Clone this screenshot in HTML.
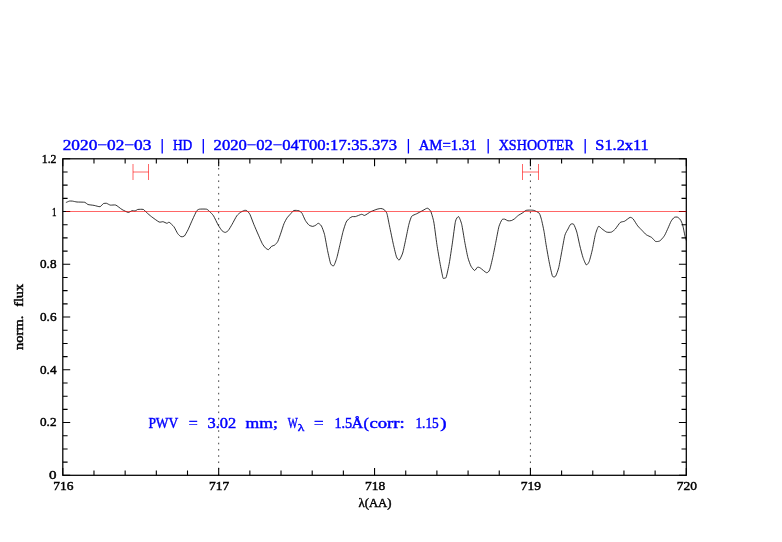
<!DOCTYPE html>
<html><head><meta charset="utf-8"><title>plot</title>
<style>html,body{margin:0;padding:0;background:#fff;}svg{display:block;will-change:transform;}text{font-family:"Liberation Serif",serif;}</style>
</head><body>
<svg width="782" height="542" viewBox="0 0 782 542">
<rect width="782" height="542" fill="#fff"/>
<g>
<line x1="218.68" y1="475.55" x2="218.68" y2="158.80" stroke="#222" stroke-width="0.85" stroke-dasharray="1.6 4.645"/>
<line x1="530.42" y1="475.55" x2="530.42" y2="158.80" stroke="#222" stroke-width="0.85" stroke-dasharray="1.6 4.645"/>
<path d="M62.80 475.30v-7.40M62.80 158.80v7.40M93.98 475.30v-4.80M93.98 158.80v4.80M125.15 475.30v-4.80M125.15 158.80v4.80M156.33 475.30v-4.80M156.33 158.80v4.80M187.50 475.30v-4.80M187.50 158.80v4.80M218.68 475.30v-7.40M218.68 158.80v7.40M249.85 475.30v-4.80M249.85 158.80v4.80M281.02 475.30v-4.80M281.02 158.80v4.80M312.20 475.30v-4.80M312.20 158.80v4.80M343.37 475.30v-4.80M343.37 158.80v4.80M374.55 475.30v-7.40M374.55 158.80v7.40M405.73 475.30v-4.80M405.73 158.80v4.80M436.90 475.30v-4.80M436.90 158.80v4.80M468.08 475.30v-4.80M468.08 158.80v4.80M499.25 475.30v-4.80M499.25 158.80v4.80M530.42 475.30v-7.40M530.42 158.80v7.40M561.60 475.30v-4.80M561.60 158.80v4.80M592.77 475.30v-4.80M592.77 158.80v4.80M623.95 475.30v-4.80M623.95 158.80v4.80M655.12 475.30v-4.80M655.12 158.80v4.80M686.30 475.30v-7.40M686.30 158.80v7.40M62.80 475.30h7.40M686.30 475.30h-7.40M62.80 462.11h4.80M686.30 462.11h-4.80M62.80 448.93h4.80M686.30 448.93h-4.80M62.80 435.74h4.80M686.30 435.74h-4.80M62.80 422.55h7.40M686.30 422.55h-7.40M62.80 409.36h4.80M686.30 409.36h-4.80M62.80 396.18h4.80M686.30 396.18h-4.80M62.80 382.99h4.80M686.30 382.99h-4.80M62.80 369.80h7.40M686.30 369.80h-7.40M62.80 356.61h4.80M686.30 356.61h-4.80M62.80 343.43h4.80M686.30 343.43h-4.80M62.80 330.24h4.80M686.30 330.24h-4.80M62.80 317.05h7.40M686.30 317.05h-7.40M62.80 303.86h4.80M686.30 303.86h-4.80M62.80 290.67h4.80M686.30 290.67h-4.80M62.80 277.49h4.80M686.30 277.49h-4.80M62.80 264.30h7.40M686.30 264.30h-7.40M62.80 251.11h4.80M686.30 251.11h-4.80M62.80 237.92h4.80M686.30 237.92h-4.80M62.80 224.74h4.80M686.30 224.74h-4.80M62.80 211.55h7.40M686.30 211.55h-7.40M62.80 198.36h4.80M686.30 198.36h-4.80M62.80 185.17h4.80M686.30 185.17h-4.80M62.80 171.99h4.80M686.30 171.99h-4.80M62.80 158.80h7.40M686.30 158.80h-7.40" stroke="#000" stroke-width="1.1" fill="none"/>
<rect x="62.80" y="158.80" width="623.50" height="316.50" fill="none" stroke="#000" stroke-width="1.25"/>
<path d="M65.90 202.60C66.24 202.45 68.65 201.25 69.30 201.10C69.95 200.95 71.63 201.01 72.40 201.10C73.17 201.19 75.76 201.88 77.00 202.00C78.24 202.12 83.71 202.05 84.80 202.30C85.89 202.55 86.97 204.19 87.90 204.50C88.83 204.81 92.89 205.18 94.10 205.40C95.31 205.62 99.07 206.88 100.00 206.70C100.93 206.52 102.75 203.94 103.40 203.60C104.05 203.26 105.81 203.15 106.50 203.30C107.19 203.45 109.37 204.92 110.30 205.10C111.23 205.28 114.63 204.66 115.80 205.10C116.97 205.54 120.76 208.77 122.00 209.50C123.24 210.23 127.20 212.28 128.20 212.40C129.20 212.52 131.31 210.84 132.00 210.70C132.69 210.56 134.54 211.12 135.10 211.00C135.66 210.88 137.06 209.67 137.60 209.50C138.14 209.33 139.91 209.30 140.50 209.30C141.09 209.30 142.87 209.16 143.50 209.50C144.13 209.84 146.01 211.99 146.80 212.70C147.59 213.41 150.17 215.67 151.40 216.60C152.63 217.53 157.94 221.49 159.10 222.00C160.26 222.51 162.22 221.57 163.00 221.70C163.78 221.83 166.28 223.24 166.90 223.30C167.52 223.36 168.50 221.96 169.20 222.30C169.90 222.64 173.05 225.57 173.90 226.70C174.75 227.83 176.99 232.60 177.70 233.60C178.41 234.60 180.33 236.46 181.00 236.70C181.67 236.94 183.70 236.69 184.40 236.00C185.10 235.31 187.26 231.28 188.00 229.80C188.74 228.32 190.95 223.06 191.80 221.20C192.65 219.34 195.75 212.40 196.50 211.20C197.25 210.00 198.29 209.40 199.30 209.20C200.31 209.00 205.56 208.96 206.60 209.20C207.64 209.44 209.01 210.94 209.70 211.60C210.39 212.26 212.65 214.45 213.50 215.80C214.35 217.15 217.34 223.60 218.20 225.10C219.06 226.60 221.40 230.07 222.10 230.80C222.80 231.53 224.58 232.43 225.20 232.40C225.82 232.37 227.61 231.31 228.30 230.50C228.99 229.69 231.25 225.77 232.10 224.30C232.95 222.83 235.95 217.00 236.80 215.80C237.65 214.60 239.83 212.84 240.60 212.30C241.37 211.76 243.88 210.56 244.50 210.40C245.12 210.24 246.26 210.31 246.80 210.70C247.34 211.09 249.20 212.94 249.90 214.30C250.60 215.66 252.94 222.21 253.80 224.30C254.66 226.39 257.65 233.26 258.50 235.20C259.35 237.14 261.61 242.43 262.30 243.70C262.99 244.97 264.78 247.31 265.40 247.90C266.02 248.49 267.88 249.76 268.50 249.60C269.12 249.44 270.98 246.75 271.60 246.30C272.22 245.85 274.08 245.59 274.70 245.10C275.32 244.61 277.18 242.62 277.80 241.40C278.42 240.18 280.28 234.68 280.90 232.90C281.52 231.12 283.38 225.11 284.00 223.60C284.62 222.09 286.48 218.73 287.10 217.80C287.72 216.87 289.55 215.02 290.20 214.30C290.85 213.58 292.98 210.99 293.60 210.60C294.22 210.21 295.86 210.38 296.40 210.40C296.94 210.42 298.56 210.64 299.00 210.80C299.44 210.96 300.50 211.76 300.80 212.00C301.10 212.24 301.54 212.35 302.00 213.20C302.46 214.05 304.70 219.31 305.40 220.50C306.10 221.69 308.26 224.51 309.00 225.10C309.74 225.69 312.11 226.40 312.80 226.40C313.49 226.40 315.35 225.41 315.90 225.10C316.45 224.79 317.75 223.22 318.30 223.30C318.85 223.38 320.78 224.79 321.40 225.90C322.02 227.01 323.88 231.92 324.50 234.40C325.12 236.88 326.98 247.76 327.60 250.70C328.22 253.64 330.08 262.30 330.70 263.80C331.32 265.30 333.18 266.32 333.80 265.70C334.42 265.08 336.28 259.72 336.90 257.60C337.52 255.48 339.38 247.13 340.00 244.50C340.62 241.87 342.48 233.55 343.10 231.30C343.72 229.05 345.58 223.29 346.20 222.00C346.82 220.71 348.69 218.94 349.30 218.40C349.91 217.86 351.69 216.78 352.30 216.60C352.91 216.42 354.47 216.83 355.40 216.60C356.33 216.37 360.67 214.42 361.60 214.30C362.53 214.18 363.77 215.67 364.70 215.40C365.63 215.13 369.66 212.22 370.90 211.60C372.14 210.98 376.09 209.51 377.10 209.20C378.11 208.89 380.30 208.46 381.00 208.50C381.70 208.54 383.51 209.10 384.10 209.60C384.69 210.10 386.36 211.87 386.90 213.50C387.44 215.13 388.85 222.80 389.50 225.90C390.15 229.00 392.70 241.40 393.40 244.50C394.10 247.60 395.91 255.35 396.50 256.90C397.09 258.45 398.68 260.39 399.30 260.00C399.92 259.61 402.05 255.09 402.70 253.00C403.35 250.91 405.18 241.97 405.80 239.10C406.42 236.23 408.31 226.58 408.90 224.30C409.49 222.02 410.93 217.35 411.70 216.30C412.47 215.25 415.47 214.39 416.60 213.80C417.73 213.21 421.93 210.96 423.00 210.40C424.07 209.84 426.53 208.12 427.30 208.20C428.07 208.28 430.05 209.82 430.70 211.20C431.35 212.58 433.18 218.67 433.80 222.00C434.42 225.33 436.28 240.39 436.90 244.50C437.52 248.61 439.40 259.79 440.00 263.10C440.60 266.41 442.50 276.09 442.90 277.60C443.30 279.11 443.67 278.24 444.00 278.20C444.33 278.16 445.67 278.71 446.20 277.20C446.73 275.69 448.68 266.53 449.30 263.10C449.92 259.67 451.78 247.09 452.40 242.90C453.02 238.71 454.88 223.83 455.50 221.20C456.12 218.57 457.98 216.29 458.60 216.60C459.22 216.91 461.08 221.74 461.70 224.30C462.32 226.86 464.18 238.87 464.80 242.20C465.42 245.53 467.28 255.20 467.90 257.60C468.52 260.00 470.33 264.91 471.00 266.20C471.67 267.49 473.95 270.40 474.60 270.50C475.25 270.60 476.93 267.45 477.50 267.20C478.07 266.95 479.40 267.45 480.30 268.00C481.20 268.55 485.57 272.50 486.50 272.70C487.43 272.90 488.98 271.51 489.60 270.00C490.22 268.49 492.08 260.38 492.70 257.60C493.32 254.82 495.18 245.29 495.80 242.20C496.42 239.11 498.28 228.95 498.90 226.70C499.52 224.45 501.41 220.45 502.00 219.70C502.59 218.95 504.21 219.09 504.80 219.20C505.39 219.31 507.25 220.66 507.90 220.80C508.55 220.94 510.65 220.79 511.30 220.60C511.95 220.41 513.70 219.42 514.40 218.90C515.10 218.38 517.53 215.97 518.30 215.40C519.07 214.83 521.33 213.70 522.10 213.20C522.87 212.70 525.22 210.71 526.00 210.40C526.78 210.09 529.12 210.10 529.90 210.10C530.68 210.10 532.87 210.09 533.80 210.40C534.73 210.71 538.43 212.27 539.20 213.20C539.97 214.13 541.02 217.89 541.50 219.70C541.98 221.51 543.52 228.67 544.00 231.30C544.48 233.93 545.76 242.82 546.30 246.00C546.84 249.18 548.78 260.08 549.40 263.10C550.02 266.12 551.88 274.89 552.50 276.20C553.12 277.51 554.98 277.05 555.60 276.20C556.22 275.35 558.08 270.18 558.70 267.70C559.32 265.22 561.18 254.65 561.80 251.40C562.42 248.15 564.28 237.44 564.90 235.20C565.52 232.96 567.43 230.09 568.00 229.00C568.57 227.91 570.03 224.77 570.60 224.30C571.17 223.83 573.08 223.52 573.70 224.30C574.32 225.08 576.18 229.93 576.80 232.10C577.42 234.27 579.28 243.45 579.90 246.00C580.52 248.55 582.36 255.71 583.00 257.60C583.64 259.49 585.68 264.51 586.30 264.90C586.92 265.29 588.60 263.00 589.20 261.50C589.80 260.00 591.68 252.61 592.30 249.90C592.92 247.19 594.78 236.75 595.40 234.40C596.02 232.05 597.83 226.94 598.50 226.40C599.17 225.86 601.28 228.43 602.10 229.00C602.92 229.57 605.77 231.79 606.70 232.10C607.63 232.41 610.54 232.41 611.40 232.10C612.26 231.79 614.42 229.96 615.30 229.00C616.18 228.04 619.27 223.28 620.20 222.50C621.13 221.72 623.62 221.71 624.60 221.20C625.58 220.69 629.15 217.63 630.00 217.40C630.85 217.17 632.33 218.05 633.10 218.90C633.87 219.75 636.77 224.71 637.70 225.90C638.63 227.09 641.55 229.92 642.40 230.80C643.25 231.68 645.27 234.03 646.20 234.70C647.13 235.37 650.77 236.83 651.70 237.50C652.63 238.17 654.73 241.04 655.50 241.40C656.27 241.76 658.70 241.41 659.40 241.10C660.10 240.79 661.95 238.92 662.50 238.30C663.05 237.68 664.35 235.91 664.90 234.90C665.45 233.89 667.38 229.57 668.00 228.20C668.62 226.83 670.48 222.28 671.10 221.20C671.72 220.12 673.58 217.81 674.20 217.40C674.82 216.99 676.68 216.87 677.30 217.10C677.92 217.33 679.86 218.90 680.40 219.70C680.94 220.50 682.26 223.55 682.70 225.10C683.14 226.65 684.44 233.65 684.80 235.20C685.16 236.75 686.15 240.06 686.30 240.60" stroke="#000" stroke-width="0.8" fill="none" stroke-linejoin="round"/>
<line x1="65.9" y1="211.5" x2="686.30" y2="211.5" stroke="#f00" stroke-opacity="0.6" stroke-width="1"/>
<path d="M133.00 164v16M148.50 164v16M133.00 172H148.50" stroke="#f00" stroke-opacity="0.6" stroke-width="1" fill="none"/>
<path d="M522.50 164v16M538.50 164v16M522.50 172H538.50" stroke="#f00" stroke-opacity="0.6" stroke-width="1" fill="none"/>
<text x="62.70" y="150.00" font-family="'Liberation Serif', serif" font-size="15.20" fill="#00f" stroke="#00f" stroke-width="0.45" text-anchor="start" textLength="88.70" lengthAdjust="spacingAndGlyphs">2020−02−03</text>
<line x1="162.20" y1="139" x2="162.20" y2="153.5" stroke="#00f" stroke-width="1.3"/>
<text x="172.90" y="150.00" font-family="'Liberation Serif', serif" font-size="15.20" fill="#00f" stroke="#00f" stroke-width="0.45" text-anchor="start" textLength="19.40" lengthAdjust="spacingAndGlyphs">HD</text>
<line x1="203.30" y1="139" x2="203.30" y2="153.5" stroke="#00f" stroke-width="1.3"/>
<text x="213.60" y="150.00" font-family="'Liberation Serif', serif" font-size="15.20" fill="#00f" stroke="#00f" stroke-width="0.45" text-anchor="start" textLength="183.40" lengthAdjust="spacingAndGlyphs">2020−02−04T00:17:35.373</text>
<line x1="408.40" y1="139" x2="408.40" y2="153.5" stroke="#00f" stroke-width="1.3"/>
<text x="418.70" y="150.00" font-family="'Liberation Serif', serif" font-size="15.20" fill="#00f" stroke="#00f" stroke-width="0.45" text-anchor="start" textLength="58.00" lengthAdjust="spacingAndGlyphs">AM=1.31</text>
<line x1="488.20" y1="139" x2="488.20" y2="153.5" stroke="#00f" stroke-width="1.3"/>
<text x="498.70" y="150.00" font-family="'Liberation Serif', serif" font-size="15.20" fill="#00f" stroke="#00f" stroke-width="0.45" text-anchor="start" textLength="75.20" lengthAdjust="spacingAndGlyphs">XSHOOTER</text>
<line x1="585.20" y1="139" x2="585.20" y2="153.5" stroke="#00f" stroke-width="1.3"/>
<text x="595.30" y="150.00" font-family="'Liberation Serif', serif" font-size="15.20" fill="#00f" stroke="#00f" stroke-width="0.45" text-anchor="start" textLength="53.40" lengthAdjust="spacingAndGlyphs">S1.2x11</text>
<text x="41.80" y="162.60" font-family="'Liberation Serif', serif" font-size="12.70" fill="#000" stroke="#000" stroke-width="0.45" text-anchor="start" textLength="14.70" lengthAdjust="spacingAndGlyphs">1.2</text>
<text x="52.00" y="215.85" font-family="'Liberation Serif', serif" font-size="12.70" fill="#000" stroke="#000" stroke-width="0.45" text-anchor="start" textLength="4.50" lengthAdjust="spacingAndGlyphs">1</text>
<text x="40.00" y="268.10" font-family="'Liberation Serif', serif" font-size="12.70" fill="#000" stroke="#000" stroke-width="0.45" text-anchor="start" textLength="16.50" lengthAdjust="spacingAndGlyphs">0.8</text>
<text x="40.00" y="320.85" font-family="'Liberation Serif', serif" font-size="12.70" fill="#000" stroke="#000" stroke-width="0.45" text-anchor="start" textLength="16.50" lengthAdjust="spacingAndGlyphs">0.6</text>
<text x="40.00" y="373.60" font-family="'Liberation Serif', serif" font-size="12.70" fill="#000" stroke="#000" stroke-width="0.45" text-anchor="start" textLength="16.50" lengthAdjust="spacingAndGlyphs">0.4</text>
<text x="40.00" y="426.35" font-family="'Liberation Serif', serif" font-size="12.70" fill="#000" stroke="#000" stroke-width="0.45" text-anchor="start" textLength="16.50" lengthAdjust="spacingAndGlyphs">0.2</text>
<text x="49.00" y="479.10" font-family="'Liberation Serif', serif" font-size="12.70" fill="#000" stroke="#000" stroke-width="0.45" text-anchor="start" textLength="7.50" lengthAdjust="spacingAndGlyphs">0</text>
<text x="53.20" y="490.20" font-family="'Liberation Serif', serif" font-size="12.70" fill="#000" stroke="#000" stroke-width="0.45" text-anchor="start" textLength="20.20" lengthAdjust="spacingAndGlyphs">716</text>
<text x="209.08" y="490.20" font-family="'Liberation Serif', serif" font-size="12.70" fill="#000" stroke="#000" stroke-width="0.45" text-anchor="start" textLength="20.20" lengthAdjust="spacingAndGlyphs">717</text>
<text x="364.95" y="490.20" font-family="'Liberation Serif', serif" font-size="12.70" fill="#000" stroke="#000" stroke-width="0.45" text-anchor="start" textLength="20.20" lengthAdjust="spacingAndGlyphs">718</text>
<text x="520.82" y="490.20" font-family="'Liberation Serif', serif" font-size="12.70" fill="#000" stroke="#000" stroke-width="0.45" text-anchor="start" textLength="20.20" lengthAdjust="spacingAndGlyphs">719</text>
<text x="676.70" y="490.20" font-family="'Liberation Serif', serif" font-size="12.70" fill="#000" stroke="#000" stroke-width="0.45" text-anchor="start" textLength="20.20" lengthAdjust="spacingAndGlyphs">720</text>
<text x="358.50" y="506.80" font-family="'Liberation Serif', serif" font-size="11.80" fill="#000" stroke="#000" stroke-width="0.40" text-anchor="start" textLength="33.00" lengthAdjust="spacingAndGlyphs">λ(AA)</text>
<g transform="translate(23.3 349.9) rotate(-90)">
<text x="0.00" y="0.00" font-family="'Liberation Serif', serif" font-size="12.80" fill="#000" stroke="#000" stroke-width="0.45" text-anchor="start" textLength="34.20" lengthAdjust="spacingAndGlyphs">norm.</text>
<text x="43.10" y="0.00" font-family="'Liberation Serif', serif" font-size="12.80" fill="#000" stroke="#000" stroke-width="0.45" text-anchor="start" textLength="22.90" lengthAdjust="spacingAndGlyphs" style="font-variant-ligatures:none">flux</text>
</g>
<text x="148.40" y="428.00" font-family="'Liberation Serif', serif" font-size="15.20" fill="#00f" stroke="#00f" stroke-width="0.45" text-anchor="start" textLength="29.90" lengthAdjust="spacingAndGlyphs">PWV</text>
<text x="188.70" y="428.00" font-family="'Liberation Serif', serif" font-size="15.20" fill="#00f" stroke="#00f" stroke-width="0.45" text-anchor="start" textLength="9.00" lengthAdjust="spacingAndGlyphs">=</text>
<text x="207.50" y="428.00" font-family="'Liberation Serif', serif" font-size="15.20" fill="#00f" stroke="#00f" stroke-width="0.45" text-anchor="start" textLength="28.70" lengthAdjust="spacingAndGlyphs">3.02</text>
<text x="245.60" y="428.00" font-family="'Liberation Serif', serif" font-size="15.20" fill="#00f" stroke="#00f" stroke-width="0.45" text-anchor="start" textLength="32.30" lengthAdjust="spacingAndGlyphs">mm;</text>
<text x="287.70" y="428.00" font-family="'Liberation Serif', serif" font-size="15.20" fill="#00f" stroke="#00f" stroke-width="0.45" text-anchor="start" textLength="10.00" lengthAdjust="spacingAndGlyphs">W</text>
<text x="314.10" y="428.00" font-family="'Liberation Serif', serif" font-size="15.20" fill="#00f" stroke="#00f" stroke-width="0.45" text-anchor="start" textLength="9.60" lengthAdjust="spacingAndGlyphs">=</text>
<text x="334.40" y="428.00" font-family="'Liberation Serif', serif" font-size="15.20" fill="#00f" stroke="#00f" stroke-width="0.45" text-anchor="start" textLength="17.80" lengthAdjust="spacingAndGlyphs">1.5</text>
<text x="351.60" y="428.00" font-family="'Liberation Serif', serif" font-size="15.20" fill="#00f" stroke="#00f" stroke-width="0.45" text-anchor="start" textLength="11.70" lengthAdjust="spacingAndGlyphs">Å</text>
<text x="363.60" y="428.00" font-family="'Liberation Serif', serif" font-size="15.20" fill="#00f" stroke="#00f" stroke-width="0.45" text-anchor="start" textLength="5.40" lengthAdjust="spacingAndGlyphs">(</text>
<text x="369.40" y="428.00" font-family="'Liberation Serif', serif" font-size="15.20" fill="#00f" stroke="#00f" stroke-width="0.45" text-anchor="start" textLength="35.30" lengthAdjust="spacingAndGlyphs">corr:</text>
<text x="415.40" y="428.00" font-family="'Liberation Serif', serif" font-size="15.20" fill="#00f" stroke="#00f" stroke-width="0.45" text-anchor="start" textLength="23.40" lengthAdjust="spacingAndGlyphs">1.15</text>
<text x="440.30" y="428.00" font-family="'Liberation Serif', serif" font-size="15.20" fill="#00f" stroke="#00f" stroke-width="0.45" text-anchor="start" textLength="6.30" lengthAdjust="spacingAndGlyphs">)</text>
<text x="297.80" y="430.80" font-family="'Liberation Serif', serif" font-size="10.50" fill="#00f" stroke="#00f" stroke-width="0.40" text-anchor="start" textLength="6.60" lengthAdjust="spacingAndGlyphs">λ</text>
</g>
</svg>
</body></html>
